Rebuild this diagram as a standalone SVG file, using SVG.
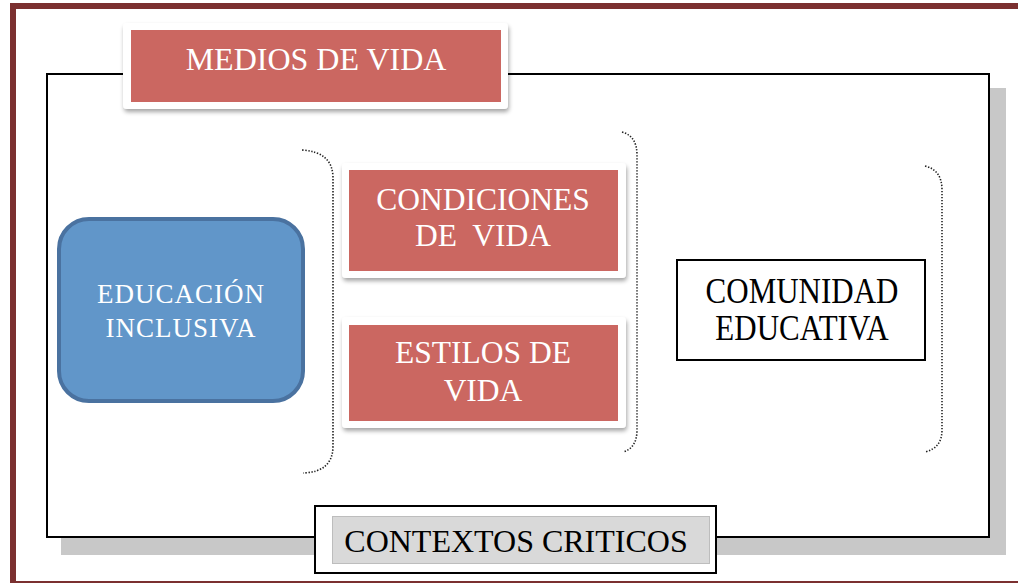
<svg xmlns="http://www.w3.org/2000/svg" width="1018" height="583" viewBox="0 0 1018 583">
<defs>
<style>
.t{font-family:"Liberation Serif","Times New Roman",serif;text-anchor:middle}
.w{fill:#ffffff}
.k{fill:#000000}
.frame{fill:#ffffff}
.red{fill:#CB6761}
.br{fill:none;stroke:#222;stroke-width:1.6;stroke-dasharray:1.4 1.6}
</style>
<filter id="sh" x="-10%" y="-20%" width="120%" height="150%">
<feDropShadow dx="1" dy="3" stdDeviation="2" flood-color="#000" flood-opacity="0.35"/>
</filter>
</defs>
<rect x="0" y="0" width="1018" height="583" fill="#ffffff"/>
<rect x="13" y="6" width="1020" height="578" fill="none" stroke="#7B3030" stroke-width="6"/>
<g id="context-frame">
<rect x="61" y="88" width="945" height="467" fill="#c8c8c8"/>
<rect x="47" y="74" width="942" height="463" fill="#ffffff" stroke="#000" stroke-width="2"/>
</g>
<g id="connectors">
<path class="br" d="M302,150 Q333,152 333,178 L333,446 Q333,472 303,473"/>
<path class="br" d="M622,132 Q637,136 637,155 L637,430 Q637,448 623,452"/>
<path class="br" d="M925,166 Q942,170 942,190 L942,430 Q942,448 925,452"/>
</g>
<g id="medios-de-vida">
<rect class="frame" x="123" y="23" width="385" height="86" rx="4" filter="url(#sh)"/>
<rect class="red" x="131" y="30" width="370" height="72"/>
<text class="t w" x="316" y="70" font-size="32">MEDIOS DE VIDA</text>
</g>
<g id="educacion-inclusiva">
<rect x="59" y="219" width="244" height="182" rx="30" fill="#6196C9" stroke="#4A72A0" stroke-width="4"/>
<text class="t w" x="181" y="303" font-size="27" letter-spacing="1">EDUCACIÓN</text>
<text class="t w" x="181" y="337" font-size="27" letter-spacing="1">INCLUSIVA</text>
</g>
<g id="condiciones-de-vida">
<rect class="frame" x="342" y="163" width="284" height="115" rx="4" filter="url(#sh)"/>
<rect class="red" x="349" y="170" width="269" height="101"/>
<text class="t w" x="483" y="210" font-size="31.5">CONDICIONES</text>
<text class="t w" x="483" y="246" font-size="31.5" xml:space="preserve">DE  VIDA</text>
</g>
<g id="estilos-de-vida">
<rect class="frame" x="342" y="317" width="284" height="111" rx="4" filter="url(#sh)"/>
<rect class="red" x="349" y="325" width="269" height="96"/>
<text class="t w" x="483" y="363" font-size="31.5">ESTILOS DE</text>
<text class="t w" x="483" y="401" font-size="31.5">VIDA</text>
</g>
<g id="comunidad-educativa">
<rect x="677" y="260" width="248" height="100" fill="#ffffff" stroke="#000" stroke-width="2"/>
<text class="t k" transform="translate(802,303) scale(1,1.15)" x="0" y="0" font-size="31">COMUNIDAD</text>
<text class="t k" transform="translate(802,340) scale(1,1.15)" x="0" y="0" font-size="31">EDUCATIVA</text>
</g>
<g id="contextos-criticos">
<rect x="315" y="506" width="401" height="67" fill="#ffffff" stroke="#000" stroke-width="2"/>
<rect x="332.5" y="516.5" width="377" height="47" fill="#D9D9D9" stroke="#bdbdbd" stroke-width="1"/>
<text class="t k" x="516" y="552" font-size="32">CONTEXTOS CRITICOS</text>
</g>
</svg>
